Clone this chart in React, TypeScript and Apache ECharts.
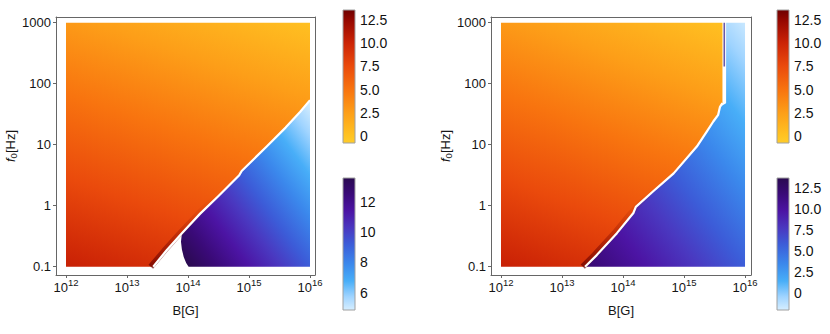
import React, { useEffect, useRef } from 'react';
import * as echarts from 'echarts';

// ---------- data (log10 B [G], log10 f0 [Hz]) ----------
const bTicks = [12, 13, 14, 15, 16];
const fTicks = [-1, 0, 1, 2, 3];
const fTickLabels = ['0.1', '1', '10', '100', '1000'];

// colour-bar ranges and ticks
const barTopRange = [-0.8, 13.62];
const barTopTicks = [0, 2.5, 5, 7.5, 10, 12.5];
const barTopLabels = ['0', '2.5', '5.0', '7.5', '10.0', '12.5'];
const barLeftBlueRange = [4.86, 13.56];
const barLeftBlueTicks = [6, 8, 10, 12];
const barLeftBlueLabels = ['6', '8', '10', '12'];
const barRightBlueRange = [-1.98, 13.65];
const barRightBlueTicks = [0, 2.5, 5, 7.5, 10, 12.5];
const barRightBlueLabels = ['0', '2.5', '5.0', '7.5', '10.0', '12.5'];

// left panel: boundary between the two regimes
const leftBoundary = [
  [13.43, -1], [13.65, -0.73], [13.9, -0.45], [14.2, -0.13], [14.5, 0.16],
  [14.84, 0.5], [14.88, 0.57], [15.29, 0.97], [15.6, 1.28], [15.84, 1.54], [16, 1.73],
];
// left panel: lower-left (rounded) corner of the blue regime
const leftBlueCorner = [
  [13.9, -0.47], [13.885, -0.59], [13.9, -0.72], [13.93, -0.84], [13.97, -0.94], [14.01, -1],
];
// darker rim of the orange regime next to the boundary
const leftDarkRim = [[13.39, -1], [13.61, -0.74], [13.86, -0.46], [14.16, -0.14], [14.45, 0.15]];
const leftOrangeSamples = [[16, 3, 0.2], [12, 3, 2.8], [12, -1, 10.3]];
const leftBlueSamples = [[16, 1.6, 5.0], [16, -1, 9.2], [14.05, -0.95, 13.4]];

// right panel
const rightBoundary = [
  [13.377, -1], [13.57, -0.81], [13.9, -0.45], [14.17, -0.12], [14.21, -0.02],
  [14.5, 0.24], [14.83, 0.53], [15.21, 0.97], [15.37, 1.21], [15.48, 1.38],
  [15.56, 1.49], [15.59, 1.62], [15.63, 1.68], [15.63, 3],
];
const rightBlueEdge = [[15.59, 1.62], [15.69, 1.68], [15.69, 3]];
const rightPurpleLine = [[15.66, 3], [15.66, 2.28]];
const rightDarkRim = [[13.34, -1], [13.53, -0.81], [13.86, -0.45], [14.13, -0.12], [14.45, 0.22]];
const rightOrangeSamples = [[15.6, 3, 0.2], [12, 3, 2.8], [12, -1, 10.3]];
const rightBlueSamples = [[16, 3, -1.6], [16, -1, 5.8], [13.45, -1, 12.0]];

// ---------- colour maps ----------
const solarStops: [number, string][] = [
  [0, '#FFCC2A'], [0.06, '#FFC222'], [0.23, '#FD9E18'], [0.4, '#F8740F'],
  [0.58, '#EA4A0C'], [0.75, '#CC2406'], [0.92, '#960800'], [1, '#6E0000'],
];
const deepSeaStops: [number, string][] = [
  [0, '#D6EEFF'], [0.1, '#A0D4FF'], [0.22, '#48AEF8'], [0.35, '#3B88EC'],
  [0.5, '#3C5CD8'], [0.62, '#4A38C0'], [0.75, '#4C14A4'], [0.88, '#3A0A78'], [1, '#2A0A50'],
];

const FONT = "'Liberation Sans', Arial, Helvetica, sans-serif";
const FRAME = '#666';
const TXT = '#161616';
const AXFS = 13;
const BARFS = 14;

function planeGradient(api: any, samples: number[][], range: number[], stops: [number, string][]) {
  const [[x1, y1, v1], [x2, y2, v2], [x3, y3, v3]] = samples;
  const det = (x2 - x1) * (y3 - y1) - (x3 - x1) * (y2 - y1);
  const b = ((v2 - v1) * (y3 - y1) - (v3 - v1) * (y2 - y1)) / det;
  const c = ((x2 - x1) * (v3 - v1) - (x3 - x1) * (v2 - v1)) / det;
  const g2 = b * b + c * c;
  const at = (v: number) => [x1 + ((v - v1) * b) / g2, y1 + ((v - v1) * c) / g2];
  const p0 = api.coord(at(range[0]));
  const p1 = api.coord(at(range[1]));
  return new echarts.graphic.LinearGradient(
    p0[0], p0[1], p1[0], p1[1],
    stops.map(([o, col]) => ({ offset: o, color: col })),
    true
  );
}

function regionSeries(axisIdx: number, poly: number[][], samples: number[][], range: number[], stops: [number, string][]) {
  return {
    type: 'custom',
    xAxisIndex: axisIdx,
    yAxisIndex: axisIdx,
    silent: true,
    z: 1,
    data: [poly[0]],
    renderItem: (params: any, api: any) => {
      if (params.dataIndex !== 0) return null;
      return {
        type: 'polygon',
        shape: { points: poly.map((p) => api.coord(p)) },
        style: { fill: planeGradient(api, samples, range, stops), stroke: 'none' },
      };
    },
  };
}

function lineSeries(axisIdx: number, pts: number[][], color: any, width: number, z: number) {
  return {
    type: 'line',
    xAxisIndex: axisIdx,
    yAxisIndex: axisIdx,
    data: pts,
    showSymbol: false,
    symbol: 'none',
    silent: true,
    z,
    lineStyle: { color, width, cap: 'butt', join: 'round' },
  };
}

const rimColor = {
  type: 'linear', x: 0, y: 1, x2: 0, y2: 0,
  colorStops: [
    { offset: 0, color: 'rgba(100,0,0,0.7)' },
    { offset: 0.35, color: 'rgba(115,0,0,0.4)' },
    { offset: 0.75, color: 'rgba(130,10,0,0.12)' },
    { offset: 1, color: 'rgba(140,10,0,0)' },
  ],
};

function barSeries(axisIdx: number, range: number[], stops: [number, string][]) {
  return {
    type: 'custom',
    xAxisIndex: axisIdx,
    yAxisIndex: axisIdx,
    silent: true,
    data: [[0, range[0]]],
    renderItem: (params: any, api: any) => {
      const p0 = api.coord([0, range[1]]);
      const p1 = api.coord([1, range[0]]);
      return {
        type: 'rect',
        shape: { x: p0[0], y: p0[1], width: p1[0] - p0[0], height: p1[1] - p0[1] },
        style: {
          fill: new echarts.graphic.LinearGradient(0, 1, 0, 0, stops.map(([o, col]) => ({ offset: o, color: col }))),
          stroke: '#a0a0a0',
          lineWidth: 1,
        },
      };
    },
  };
}

export default function App() {
  const ref = useRef<HTMLDivElement>(null);
  useEffect(() => {
    if (!ref.current) return;
    const chart = echarts.init(ref.current, undefined, { renderer: 'svg' });

    const leftOrangePoly = [[12, -1], ...leftBoundary, [16, 3], [12, 3]];
    const leftBluePoly = [
      ...leftBoundary.slice().reverse().filter((p) => p[0] >= 13.9),
      ...leftBlueCorner.slice(1),
      [16, -1],
    ];
    const rightOrangePoly = [[12, -1], ...rightBoundary, [12, 3]];
    const rightBluePoly = [
      ...rightBoundary.filter((p) => p[1] < 1.6),
      ...rightBlueEdge,
      [16, 3],
      [16, -1],
    ];

    const mainX = (gridIndex: number, max: number) => ({
      type: 'value', gridIndex, min: 11.836, max, position: 'bottom',
      axisLine: { show: true, onZero: false, lineStyle: { color: FRAME, width: 1 } },
      axisTick: { show: true, customValues: bTicks, length: 3, lineStyle: { color: FRAME } },
      splitLine: { show: false },
      axisLabel: {
        customValues: bTicks, margin: 2, color: TXT,
        formatter: (v: number) => `{b|10}{s|${Math.round(v)}}`,
        rich: {
          b: { fontSize: AXFS, fontFamily: FONT, lineHeight: 20, color: TXT },
          s: { fontSize: 9.5, fontFamily: FONT, lineHeight: 11, verticalAlign: 'top', color: TXT },
        },
      },
      name: 'B[G]', nameLocation: 'middle', nameGap: 29,
      nameTextStyle: { fontSize: AXFS, fontFamily: FONT, color: TXT },
    });
    const frameX = (gridIndex: number, max: number) => ({
      type: 'value', gridIndex, min: 11.836, max, position: 'top',
      axisLine: { show: true, onZero: false, lineStyle: { color: FRAME, width: 1 } },
      axisTick: { show: false }, axisLabel: { show: false }, splitLine: { show: false },
    });
    const mainY = (gridIndex: number) => ({
      type: 'value', gridIndex, min: -1.136, max: 3.093, position: 'left',
      axisLine: { show: true, onZero: false, lineStyle: { color: FRAME, width: 1 } },
      axisTick: { show: true, customValues: fTicks, length: 3, lineStyle: { color: FRAME } },
      splitLine: { show: false },
      axisLabel: {
        customValues: fTicks, margin: 5, color: TXT, fontSize: AXFS, fontFamily: FONT,
        formatter: (v: number) => fTickLabels[fTicks.indexOf(Math.round(v))] ?? '',
      },
      name: '{i|f}{s|0}[Hz]', nameLocation: 'middle', nameGap: 37, nameRotate: 90,
      nameTextStyle: {
        fontSize: AXFS, fontFamily: FONT, color: TXT,
        rich: {
          i: { fontSize: AXFS, fontFamily: FONT, fontStyle: 'italic', lineHeight: 16, color: TXT },
          s: { fontSize: 9.5, fontFamily: FONT, lineHeight: 10, verticalAlign: 'bottom', color: TXT },
        },
      },
    });
    const frameY = (gridIndex: number) => ({
      type: 'value', gridIndex, min: -1.136, max: 3.093, position: 'right',
      axisLine: { show: true, onZero: false, lineStyle: { color: FRAME, width: 1 } },
      axisTick: { show: false }, axisLabel: { show: false }, splitLine: { show: false },
    });
    const barX = (gridIndex: number) => ({
      type: 'value', gridIndex, min: 0, max: 1, show: false,
    });
    const barY = (gridIndex: number, range: number[], ticks: number[], labels: string[]) => ({
      type: 'value', gridIndex, min: range[0], max: range[1], position: 'right',
      axisLine: { show: false }, splitLine: { show: false },
      axisTick: { show: true, customValues: ticks, length: 3, lineStyle: { color: '#777' } },
      axisLabel: {
        customValues: ticks, margin: 5, color: '#111', fontSize: BARFS, fontFamily: FONT,
        formatter: (v: number) => labels[ticks.findIndex((t) => Math.abs(t - v) < 1e-6)] ?? '',
      },
    });
    const minorTicks = (range: number[]) => {
      const out: number[] = [];
      for (let k = Math.ceil(range[0] * 2); k <= Math.floor(range[1] * 2); k++) out.push(k / 2);
      return out;
    };
    const barYMinor = (gridIndex: number, range: number[]) => ({
      type: 'value', gridIndex, min: range[0], max: range[1], position: 'right',
      axisLine: { show: false }, splitLine: { show: false }, axisLabel: { show: false },
      axisTick: { show: true, customValues: minorTicks(range), length: 2, lineStyle: { color: '#aaa' } },
    });

    chart.setOption({
      animation: false,
      backgroundColor: '#fff',
      grid: [
        { left: 56, top: 17, width: 259, height: 258 },
        { left: 491, top: 17, width: 260, height: 258 },
        { left: 343, top: 10, width: 12, height: 133 },
        { left: 343, top: 178, width: 12, height: 132 },
        { left: 777, top: 10, width: 12, height: 133 },
        { left: 777, top: 178, width: 12, height: 132 },
      ],
      xAxis: [
        mainX(0, 16.082), mainX(1, 16.098),
        barX(2), barX(3), barX(4), barX(5),
        frameX(0, 16.082), frameX(1, 16.098),
        barX(2), barX(3), barX(4), barX(5),
      ],
      yAxis: [
        mainY(0), mainY(1),
        barY(2, barTopRange, barTopTicks, barTopLabels),
        barY(3, barLeftBlueRange, barLeftBlueTicks, barLeftBlueLabels),
        barY(4, barTopRange, barTopTicks, barTopLabels),
        barY(5, barRightBlueRange, barRightBlueTicks, barRightBlueLabels),
        frameY(0), frameY(1),
        barYMinor(2, barTopRange), barYMinor(3, barLeftBlueRange),
        barYMinor(4, barTopRange), barYMinor(5, barRightBlueRange),
      ],
      series: [
        regionSeries(0, leftOrangePoly, leftOrangeSamples, barTopRange, solarStops),
        regionSeries(0, leftBluePoly, leftBlueSamples, barLeftBlueRange, deepSeaStops),
        lineSeries(0, leftDarkRim, rimColor, 6, 2),
        lineSeries(0, leftBoundary, '#ffffff', 2.2, 3),
        regionSeries(1, rightOrangePoly, rightOrangeSamples, barTopRange, solarStops),
        regionSeries(1, rightBluePoly, rightBlueSamples, barRightBlueRange, deepSeaStops),
        lineSeries(1, rightDarkRim, rimColor, 6, 2),
        lineSeries(1, rightBoundary.filter((p) => p[1] < 1.7), '#ffffff', 2.2, 3),
        lineSeries(1, rightPurpleLine, '#6a5aa8', 1.6, 4),
        barSeries(2, barTopRange, solarStops),
        barSeries(3, barLeftBlueRange, deepSeaStops),
        barSeries(4, barTopRange, solarStops),
        barSeries(5, barRightBlueRange, deepSeaStops),
      ],
    });
    return () => chart.dispose();
  }, []);
  return <div ref={ref} style={{ width: 830, height: 334, position: 'absolute', left: 0, top: 0 }} />;
}
